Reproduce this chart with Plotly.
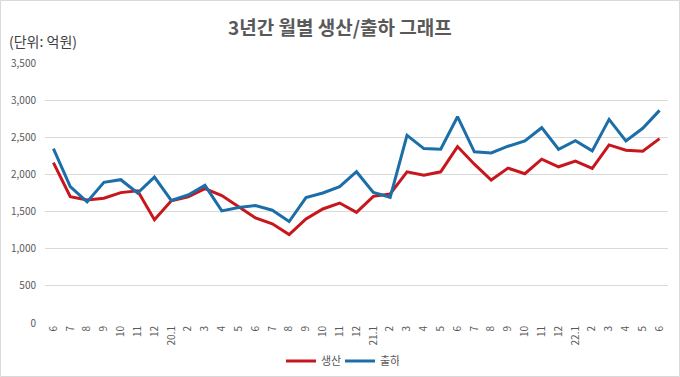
import plotly.graph_objects as go

months = ["6", "7", "8", "9", "10", "11", "12",
          "20.1", "2", "3", "4", "5", "6", "7", "8", "9", "10", "11", "12",
          "21.1", "2", "3", "4", "5", "6", "7", "8", "9", "10", "11", "12",
          "22.1", "2", "3", "4", "5", "6"]

production = [2160, 1700, 1655, 1680, 1755, 1780, 1390,
              1645, 1700, 1810, 1715, 1570, 1415, 1335, 1190, 1400, 1535, 1615, 1490,
              1705, 1737, 2035, 1990, 2035, 2375, 2138, 1925, 2085, 2010, 2205, 2103,
              2180, 2080, 2397, 2326, 2312, 2482]

shipment = [2348, 1835, 1630, 1893, 1929, 1750, 1964,
            1650, 1723, 1853, 1509, 1554, 1580, 1518, 1366, 1688, 1750, 1835, 2036,
            1759, 1692, 2527, 2348, 2339, 2777, 2304, 2290, 2380, 2451, 2629, 2339,
            2455, 2317, 2741, 2451, 2621, 2862]

series_names = ["생산", "출하"]
y_ticks = [0, 500, 1000, 1500, 2000, 2500, 3000, 3500]

idx = list(range(len(months)))
font_family = "Noto Sans CJK KR, Noto Sans, sans-serif"

fig = go.Figure()
fig.add_trace(go.Scatter(x=idx, y=production, mode="lines", name=series_names[0],
                         line=dict(color="#C8161D", width=3)))
fig.add_trace(go.Scatter(x=idx, y=shipment, mode="lines", name=series_names[1],
                         line=dict(color="#1B6EA8", width=3)))

W, H = 680, 377
ml, mr, mt, mb = 45, 12, 63, 54
pw, ph = W - ml - mr, H - mt - mb

fig.update_layout(
    template="none",
    width=W, height=H,
    margin=dict(l=ml, r=mr, t=mt, b=mb, autoexpand=False),
    paper_bgcolor="white", plot_bgcolor="white",
    font=dict(family=font_family, color="#595959", size=10),
    showlegend=True,
    legend=dict(orientation="h", x=(281 - ml) / pw, xanchor="left", y=-0.09, yanchor="top",
                font=dict(size=11, color="#595959"), itemwidth=30,
                entrywidth=14, entrywidthmode="pixels",
                tracegroupgap=0, bgcolor="rgba(0,0,0,0)"),
    xaxis=dict(range=[-0.5, len(months) - 0.5], tickmode="array", tickvals=idx,
               ticktext=months, tickangle=-90, showgrid=False, zeroline=False,
               showline=False, ticks="", tickfont=dict(size=10, color="#595959"),
               automargin=False, fixedrange=True),
    yaxis=dict(range=[0, 3500], tickmode="array", tickvals=y_ticks, tickformat=",",
               showgrid=True, gridcolor="#D9D9D9", gridwidth=1, zeroline=False,
               showline=False, ticks="", ticklabelstandoff=8, automargin=False,
               tickfont=dict(size=10, color="#595959"), fixedrange=True),
    annotations=[
        dict(text="<b>3년간 월별 생산/출하 그래프</b>", xref="paper", yref="paper",
             x=(340 - ml) / pw, y=1 + (mt - 26) / ph, xanchor="center", yanchor="middle",
             showarrow=False, font=dict(size=19, color="#595959", family=font_family)),
        dict(text="(단위: 억원)", xref="paper", yref="paper",
             x=(7 - ml) / pw, y=1 + (mt - 41) / ph, xanchor="left", yanchor="middle",
             showarrow=False, font=dict(size=14, color="#404040", family=font_family)),
    ],
    shapes=[dict(type="rect", xref="paper", yref="paper",
                 x0=(0.5 - ml) / pw, x1=(W - 0.5 - ml) / pw,
                 y0=-(mb - 0.5) / ph, y1=1 + (mt - 0.5) / ph,
                 line=dict(color="#D9D9D9", width=1), fillcolor="rgba(0,0,0,0)",
                 layer="below")],
)

fig.write_html("out.html", config={"displayModeBar": False},
               post_script="document.body.style.margin='0';document.body.style.overflow='hidden';")
